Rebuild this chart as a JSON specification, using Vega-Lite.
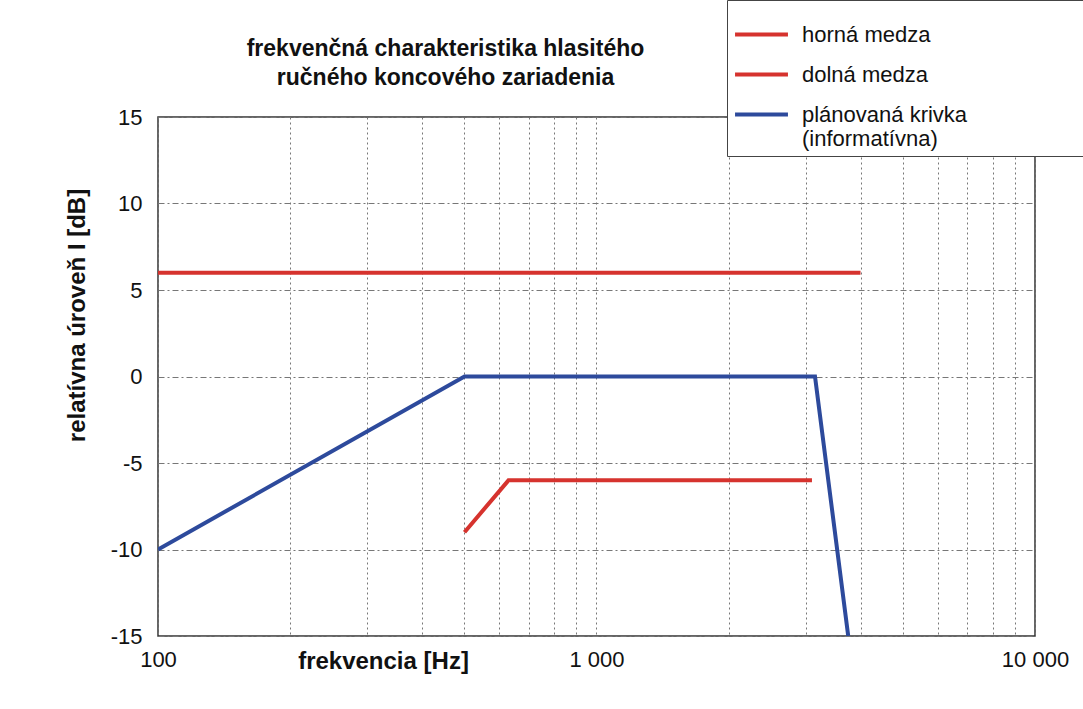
{
  "$schema": "https://vega.github.io/schema/vega-lite/v6.json",
  "width": 877,
  "height": 519,
  "autosize": {"type": "none"},
  "padding": {"left": 158, "top": 117, "right": 48, "bottom": 73},
  "background": "white",
  "config": {
    "font": "Liberation Sans, Arial",
    "view": {"stroke": "#333", "strokeWidth": 1.5}
  },
  "title": {
    "text": ["frekvenčná charakteristika hlasitého", "ručného koncového zariadenia"],
    "anchor": "middle",
    "dx": -151,
    "dy": 120,
    "offset": 30,
    "fontSize": 23,
    "fontWeight": "bold",
    "lineHeight": 29,
    "color": "#111"
  },
  "data": {
    "values": [
      {"series": "horná medza", "part": "a", "freq": 100, "level": 6},
      {"series": "horná medza", "part": "a", "freq": 4000, "level": 6},
      {"series": "dolná medza", "part": "b", "freq": 500, "level": -9},
      {"series": "dolná medza", "part": "b", "freq": 630, "level": -6},
      {"series": "dolná medza", "part": "b", "freq": 3100, "level": -6},
      {"series": "plánovaná krivka|(informatívna)", "part": "c", "freq": 100, "level": -10},
      {"series": "plánovaná krivka|(informatívna)", "part": "c", "freq": 500, "level": 0},
      {"series": "plánovaná krivka|(informatívna)", "part": "c", "freq": 3150, "level": 0},
      {"series": "plánovaná krivka|(informatívna)", "part": "c", "freq": 3750, "level": -15}
    ]
  },
  "mark": {"type": "line", "strokeWidth": 4, "clip": true},
  "encoding": {
    "x": {
      "field": "freq",
      "type": "quantitative",
      "scale": {"type": "log", "domain": [100, 10000], "nice": false},
      "axis": {
        "values": [100, 200, 300, 400, 500, 600, 700, 800, 900, 1000, 2000, 3000, 4000, 5000, 6000, 7000, 8000, 9000, 10000],
        "labelExpr": "datum.value == 100 ? '100' : datum.value == 1000 ? '1 000' : datum.value == 10000 ? '10 000' : ''",
        "labelFontSize": 22,
        "labelColor": "#111",
        "labelPadding": 13,
        "labelFlush": false,
        "labelOverlap": false,
        "ticks": false,
        "domain": false,
        "grid": true,
        "gridColor": "#777",
        "gridDash": [2, 3],
        "gridWidth": 1,
        "title": "frekvencia [Hz]",
        "titleFontSize": 24,
        "titleFontWeight": "bold",
        "titleColor": "#111",
        "titleX": 225,
        "titleY": 25,
        "titleAlign": "center",
        "titleBaseline": "middle"
      }
    },
    "y": {
      "field": "level",
      "type": "quantitative",
      "scale": {"domain": [-15, 15], "nice": false},
      "axis": {
        "values": [-15, -10, -5, 0, 5, 10, 15],
        "labelExpr": "'' + datum.value",
        "labelFontSize": 22,
        "labelColor": "#111",
        "labelPadding": 16,
        "labelFlush": false,
        "ticks": false,
        "domain": false,
        "grid": true,
        "gridColor": "#777",
        "gridDash": [6, 3, 2, 3],
        "gridWidth": 1,
        "title": "relatívna úroveň I [dB]",
        "titleFontSize": 24,
        "titleFontWeight": "bold",
        "titleColor": "#111",
        "titleX": -81,
        "titleY": 198,
        "titleAlign": "center",
        "titleBaseline": "middle"
      }
    },
    "detail": {"field": "part"},
    "color": {
      "field": "series",
      "type": "nominal",
      "scale": {
        "domain": ["horná medza", "dolná medza", "plánovaná krivka|(informatívna)"],
        "range": ["#d6332e", "#d6332e", "#2d4a9c"]
      },
      "legend": {
        "title": "\u2800\u2800\u2800\u2800\u2800\u2800\u2800\u2800\u2800\u2800\u2800\u2800\u2800\u2800\u2800\u2800\u2800\u2800\u2800\u2800",
        "titleOrient": "right",
        "titleFontSize": 20,
        "titleColor": "white",
        "titleLimit": 400,
        "orient": "none",
        "legendX": 569,
        "legendY": -117,
        "symbolType": "stroke",
        "symbolStrokeWidth": 4,
        "symbolSize": 2800,
        "labelFontSize": 22,
        "labelColor": "#111",
        "labelExpr": "split(datum.label, '|')",
        "labelOffset": 12,
        "labelLimit": 400,
        "rowPadding": 0,
        "strokeColor": "#444",
        "fillColor": "white",
        "padding": 6
      }
    }
  }
}
